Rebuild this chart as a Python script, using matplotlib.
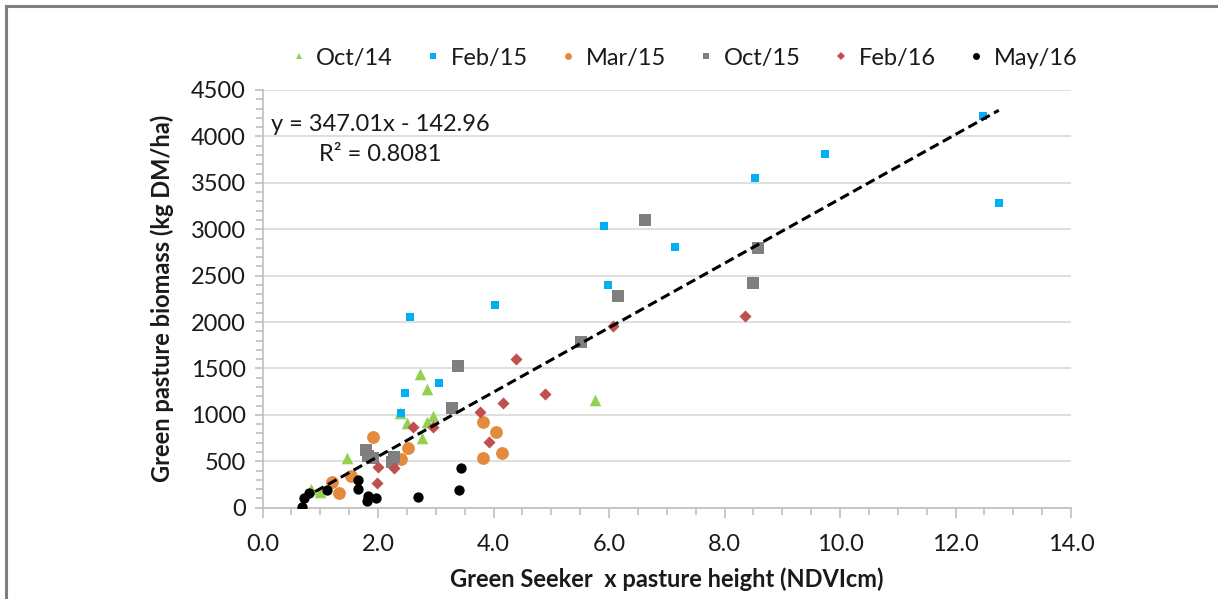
import matplotlib
matplotlib.use("Agg")
import matplotlib.pyplot as plt
from matplotlib.lines import Line2D
import numpy as np

plt.rcParams['font.family'] = ['Lato', 'DejaVu Sans']

# ---- data ----
oct14_x = [0.835, 0.996, 1.458, 2.38, 2.50, 2.73, 2.85, 2.95, 2.84, 2.77, 5.75]
oct14_y = [198, 166, 532, 1024, 916, 1441, 1276, 988, 927, 748, 1158]

feb15_x = [2.39, 2.46, 3.06, 2.55, 4.03, 5.92, 5.98, 7.14, 8.52, 9.74, 12.47, 12.75]
feb15_y = [1017, 1239, 1340, 2052, 2184, 3036, 2396, 2809, 3550, 3813, 4223, 3288]

mar15_x = [1.20, 1.32, 1.53, 1.92, 2.40, 2.52, 3.82, 4.04, 3.81, 4.14]
mar15_y = [280, 162, 345, 765, 521, 647, 920, 819, 539, 586]

oct15_x = [1.79, 1.83, 1.92, 2.27, 2.25, 3.29, 3.39, 5.51, 6.16, 6.62, 8.50, 8.58]
oct15_y = [622, 557, 532, 550, 496, 1071, 1530, 1781, 2280, 3097, 2417, 2802]

feb16_x = [4.39, 4.17, 3.77, 3.93, 2.60, 2.95, 2.00, 2.28, 1.99, 4.90, 6.07, 8.35]
feb16_y = [1602, 1125, 1028, 711, 866, 866, 442, 431, 263, 1225, 1957, 2068]

may16_x = [0.69, 0.72, 0.81, 1.12, 1.65, 1.65, 1.82, 1.81, 1.96, 2.70, 3.44, 3.41]
may16_y = [8, 101, 155, 191, 298, 201, 129, 75, 101, 112, 425, 187]

series_labels = ['Oct/14', 'Feb/15', 'Mar/15', 'Oct/15', 'Feb/16', 'May/16']
slope, intercept, r2 = 347.01, -142.96, 0.8081

x_ticks = [0.0, 2.0, 4.0, 6.0, 8.0, 10.0, 12.0, 14.0]
y_ticks = [0, 500, 1000, 1500, 2000, 2500, 3000, 3500, 4000, 4500]

# ---- figure ----
fig = plt.figure(figsize=(12.18, 5.99), dpi=100)
ax = fig.add_axes([262.5 / 1218, 1 - 507.7 / 599, (1071 - 262.5) / 1218, (507.7 - 90) / 599])

styles = [
    dict(marker='^', color='#92D050', s=70),
    dict(marker='s', color='#00B0F0', s=36),
    dict(marker='o', color='#E38A3C', s=85),
    dict(marker='s', color='#7F7F7F', s=80),
    dict(marker='D', color='#C0504D', s=38),
    dict(marker='o', color='#000000', s=55),
]
data = [(oct14_x, oct14_y), (feb15_x, feb15_y), (mar15_x, mar15_y),
        (oct15_x, oct15_y), (feb16_x, feb16_y), (may16_x, may16_y)]

for (xs, ys), st, lab in zip(data, styles, series_labels):
    ax.scatter(xs, ys, marker=st['marker'], c=st['color'], s=st['s'],
               linewidths=0, zorder=3, label=lab)

all_x = np.concatenate([np.asarray(d[0]) for d in data])
xl = np.array([all_x.min(), all_x.max()])
ax.plot(xl, slope * xl + intercept, linestyle=(0, (3.2, 1.6)), color='black',
        linewidth=2.2, zorder=4)

ax.set_xlim(0, 14)
ax.set_ylim(0, 4500)
ax.set_xticks(x_ticks)
ax.set_xticklabels([f"{v:.1f}" for v in x_ticks])
ax.set_xticks(np.arange(0, 14.01, 0.5), minor=True)
ax.set_yticks(y_ticks)
ax.set_yticklabels([str(v) for v in y_ticks])
ax.set_yticks(np.arange(0, 4501, 100), minor=True)

ax.grid(axis='y', which='major', color='#D9D9D9', linewidth=1.2)
ax.set_axisbelow(True)
for s in ['top', 'right']:
    ax.spines[s].set_visible(False)
for s in ['left', 'bottom']:
    ax.spines[s].set_color('#BFBFBF')
    ax.spines[s].set_linewidth(1.2)

ax.tick_params(axis='both', which='both', color='#BFBFBF', width=1.2,
               direction='out')
ax.tick_params(axis='x', which='major', length=7, pad=12, labelsize=17, labelcolor='#1a1a1a')
ax.tick_params(axis='x', which='minor', length=5)
ax.tick_params(axis='y', which='major', length=6, pad=6, labelsize=17, labelcolor='#1a1a1a')
ax.tick_params(axis='y', which='minor', length=5)

ax.set_xlabel('Green Seeker  x pasture height (NDVIcm)', fontsize=17,
              fontweight='bold', labelpad=9, color='#1a1a1a')
ax.set_ylabel('Green pasture biomass (kg DM/ha)', fontsize=17,
              fontweight='bold', labelpad=12, color='#1a1a1a')

ax.text(0.14, 4130, f"y = {slope:.2f}x - {abs(intercept):.2f}", fontsize=17,
        color='#1a1a1a', va='center', ha='left')
ax.text(0.98, 3810, f"R² = {r2:.4f}", fontsize=17, color='#1a1a1a',
        va='center', ha='left')

# legend
handles = []
for st, lab in zip(styles, series_labels):
    handles.append(Line2D([], [], linestyle='none', marker=st['marker'],
                          color=st['color'], markersize=5 if st['marker'] != 'D' else 4,
                          markeredgewidth=0, label=lab))
fig.legend(handles=handles, loc='center', bbox_to_anchor=(0.561, 0.903), ncol=6,
           frameon=False, fontsize=17, handlelength=0.8, handletextpad=0.35,
           columnspacing=1.3, labelcolor='#1a1a1a')

# figure border
fig.add_artist(Line2D([5.5 / 1218, 5.5 / 1218], [0, 1 - 5.5 / 599],
                      transform=fig.transFigure, color='#7F7F7F', linewidth=2.2))
fig.add_artist(Line2D([5.5 / 1218, 1], [1 - 5.5 / 599, 1 - 5.5 / 599],
                      transform=fig.transFigure, color='#7F7F7F', linewidth=2.2))

fig.savefig('out.png', dpi=100)
